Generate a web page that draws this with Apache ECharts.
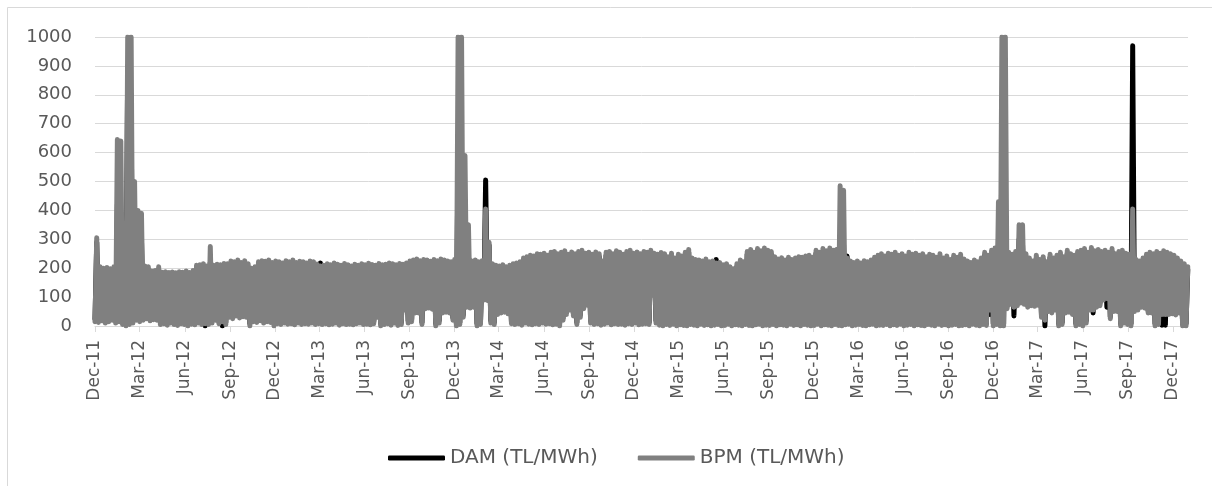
<!DOCTYPE html>
<html>
<head>
<meta charset="utf-8">
<script src="https://cdn.jsdelivr.net/npm/echarts@6/dist/echarts.min.js"></script>
<style>
html,body{margin:0;padding:0;background:#fff;}
#chart{width:1212px;height:486px;}
</style>
</head>
<body>
<div id="chart"></div>
<script>
// Weekly series starting at week of 1 Dec 2011 (week index i -> days 7*i .. 7*i+7)
const tickLabels = ['Dec-11','Mar-12','Jun-12','Sep-12','Dec-12','Mar-13','Jun-13','Sep-13','Dec-13','Mar-14','Jun-14','Sep-14','Dec-14','Mar-15','Jun-15','Sep-15','Dec-15','Mar-16','Jun-16','Sep-16','Dec-16','Mar-17','Jun-17','Sep-17','Dec-17'];
const seriesNames = ['DAM (TL/MWh)', 'BPM (TL/MWh)'];

// BPM weekly maxima
const bpmHigh = [
305,205,200,202,198,205,645,640,355,1000,
1000,500,400,390,208,205,190,192,205,186,
188,185,187,184,188,186,190,185,192,210,
212,215,208,275,210,214,212,216,215,225,
222,228,220,226,215,200,205,222,226,224,
228,220,225,222,218,226,222,228,220,224,
222,218,225,222,214,208,210,215,212,218,
214,210,216,212,208,214,210,215,212,217,
213,210,216,212,214,218,215,212,216,214,
218,225,228,232,226,230,228,224,230,226,
232,228,225,222,230,1000,1000,590,350,225,
228,222,226,405,290,215,210,208,212,205,
210,215,218,222,235,240,245,242,250,248,
252,245,255,258,250,255,260,248,256,250,
258,262,252,255,248,256,250,225,255,258,
250,260,255,248,258,262,252,256,250,258,
255,262,252,248,254,250,240,252,235,248,
242,255,265,235,230,228,225,232,222,225,
218,220,212,215,205,198,215,228,222,258,
265,255,268,260,270,262,258,240,232,236,
228,238,230,235,240,238,242,245,238,262,
255,268,260,270,262,265,485,470,235,225,
220,225,218,226,222,228,238,245,250,242,
252,248,255,245,250,242,255,248,252,245,
250,240,248,245,238,250,235,242,230,245,
238,248,232,225,220,228,222,235,255,245,
262,270,430,1000,1000,255,248,258,350,350,
250,235,225,245,230,240,222,248,235,245,
255,240,262,250,245,258,262,268,255,272,
260,265,258,262,255,268,250,258,262,252,
248,405,230,225,235,248,255,250,258,252,
260,255,250,245,235,225,215,205
];
// BPM weekly minima
const bpmLow = [
15,12,18,10,15,20,10,15,5,0,
5,10,20,15,20,25,18,22,20,5,
8,3,10,5,2,8,5,0,6,4,
10,5,8,5,10,20,8,15,5,30,
25,35,28,32,30,0,15,12,18,10,
15,12,0,8,5,10,6,8,4,10,
5,8,6,10,5,8,5,8,4,6,
10,3,8,5,6,4,8,10,5,6,
4,8,30,0,5,8,3,10,2,5,
55,10,15,45,45,5,60,62,58,0,
10,45,48,45,20,0,5,30,65,62,
65,0,5,90,88,10,5,40,45,48,
42,8,5,8,3,10,6,4,8,5,
10,6,8,4,6,0,20,40,55,35,
5,30,60,72,10,5,8,3,6,10,
4,8,5,6,3,8,5,10,4,6,
8,5,107,10,3,0,5,2,6,0,
4,2,0,5,3,0,6,2,4,0,
3,5,0,2,6,0,4,3,0,5,
2,0,4,6,0,3,2,5,0,4,
3,0,6,2,4,0,5,3,0,2,
6,0,4,3,0,5,2,0,4,6,
0,3,5,2,0,4,6,0,3,2,
5,0,4,2,6,0,3,5,0,4,
2,0,5,3,0,6,2,4,0,3,
5,0,2,4,0,6,3,0,5,2,
55,0,5,0,0,60,75,65,70,80,
75,65,70,68,72,30,20,50,45,55,
0,5,45,48,40,0,5,0,10,55,
55,65,70,90,95,25,50,50,0,10,
5,0,50,55,65,62,45,45,0,5,
40,40,40,42,38,45,0,0
];
// DAM weekly maxima
const damHigh = [
290,195,190,192,188,195,420,380,330,900,
700,350,320,300,198,195,182,184,195,178,
180,176,178,175,180,178,182,176,184,200,
202,205,198,220,200,204,202,206,205,215,
212,218,210,216,205,190,196,212,216,214,
218,210,215,212,208,216,212,218,210,214,
212,208,215,212,214,218,200,205,202,208,
204,200,206,202,198,204,200,205,202,207,
203,200,206,202,204,208,205,202,206,204,
208,215,218,222,216,220,218,214,220,216,
222,218,215,212,220,600,450,300,250,215,
218,212,216,505,280,205,200,198,202,195,
200,205,208,212,225,230,235,232,240,238,
242,235,245,248,240,245,250,238,246,240,
248,252,242,245,238,246,240,215,245,248,
240,250,245,238,248,252,242,246,240,248,
245,252,242,238,244,240,230,242,225,238,
232,245,255,225,220,218,215,222,212,215,
230,210,202,205,195,188,205,218,212,248,
255,245,258,250,260,252,248,230,222,226,
218,228,220,225,230,228,232,235,228,252,
245,258,250,260,252,255,300,280,242,215,
210,215,208,216,212,218,228,235,240,232,
242,238,245,235,240,232,245,238,242,235,
240,230,238,235,228,240,225,232,220,235,
228,238,222,215,210,218,212,225,245,235,
252,260,300,600,450,245,238,248,300,280,
240,225,215,235,220,230,212,238,225,235,
245,230,252,240,235,248,252,258,245,262,
250,255,248,252,245,258,240,248,252,242,
238,970,220,215,225,238,245,240,248,242,
250,245,240,235,225,215,205,195
];
// DAM weekly minima
const damLow = [
25,20,25,18,22,28,18,22,12,8,
12,18,28,22,28,32,25,30,28,12,
15,10,18,12,10,15,12,8,14,12,
18,12,0,12,18,28,15,0,12,38,
32,42,35,40,38,8,22,20,25,18,
22,20,8,15,12,18,14,15,12,18,
12,15,14,18,12,15,12,15,12,14,
18,10,15,12,14,12,15,18,12,14,
12,15,38,8,12,15,10,18,10,12,
62,18,22,52,52,12,68,70,65,8,
18,52,55,52,28,8,12,38,72,70,
72,8,12,95,95,18,12,48,52,55,
50,15,12,15,10,18,14,12,15,12,
18,14,15,12,14,8,28,48,62,42,
12,38,68,80,18,12,15,10,14,18,
12,15,12,14,10,15,12,18,12,14,
15,12,112,18,10,8,12,10,14,8,
12,10,8,12,10,8,14,10,12,8,
10,12,8,10,14,8,12,10,8,12,
10,8,12,14,8,10,10,12,8,12,
10,8,14,10,12,8,12,10,8,10,
14,8,12,10,8,12,10,8,12,14,
8,10,12,10,8,12,14,8,10,10,
12,8,12,10,14,8,10,12,8,12,
10,8,12,10,8,14,10,12,8,10,
12,8,10,12,8,14,10,8,12,10,
40,8,12,8,8,68,82,35,78,88,
82,72,78,75,80,38,0,58,52,62,
8,12,52,55,48,8,12,8,18,62,
45,72,78,98,65,32,58,58,8,18,
12,8,58,62,72,70,52,52,8,12,
3,3,48,50,45,52,8,8
];

const MONTHS = {Jan:0,Feb:1,Mar:2,Apr:3,May:4,Jun:5,Jul:6,Aug:7,Sep:8,Oct:9,Nov:10,Dec:11};
const START = Date.UTC(2011, 11, 1);
const DAY = 86400000;
const tickDays = tickLabels.map(function (s) {
  const p = s.split('-');
  return (Date.UTC(2000 + Number(p[1]), MONTHS[p[0]], 1) - START) / DAY;
});
const endDay = (Date.UTC(2018, 0, 1) - START) / DAY;

function zigzag(lows, highs) {
  const out = [];
  for (let i = 0; i < lows.length; i++) {
    out.push([7 * i, lows[i]]);
    out.push([7 * i + 3.5, highs[i]]);
  }
  return out;
}

const FONT = 'DejaVu Sans';
const TXT = '#595959';
const chart = echarts.init(document.getElementById('chart'), null, {renderer: 'canvas'});
chart.setOption({
  animation: false,
  backgroundColor: '#ffffff',
  graphic: [{
    type: 'rect', silent: true, z: -10,
    shape: {x: 7.5, y: 7.5, width: 1230, height: 500},
    style: {fill: 'none', stroke: '#d9d9d9', lineWidth: 1}
  }],
  grid: {left: 95, right: 24, top: 37, bottom: 160, containLabel: false},
  legend: {
    data: seriesNames,
    left: 383, top: 443,
    icon: 'roundRect',
    itemWidth: 57, itemHeight: 5, itemGap: 40,
    textStyle: {fontFamily: FONT, fontSize: 20, color: TXT}
  },
  xAxis: {
    type: 'value', min: 0, max: endDay,
    axisLine: {show: true, lineStyle: {color: '#d9d9d9', width: 1}},
    axisTick: {show: true, customValues: tickDays, length: 6, lineStyle: {color: '#d9d9d9'}},
    axisLabel: {
      customValues: tickDays, rotate: 90, margin: 14,
      fontFamily: FONT, fontSize: 17, color: TXT,
      formatter: function (v) { const k = tickDays.indexOf(v); return k >= 0 ? tickLabels[k] : ''; }
    },
    splitLine: {show: false}
  },
  yAxis: {
    type: 'value', min: 0, max: 1000, interval: 100,
    axisLine: {show: false}, axisTick: {show: false},
    axisLabel: {margin: 23, fontFamily: FONT, fontSize: 18, color: TXT,
      formatter: function (v) { return String(v); }},
    splitLine: {lineStyle: {color: '#d9d9d9', width: 1}}
  },
  series: [
    {
      name: seriesNames[0], type: 'line', showSymbol: false, symbol: 'none',
      data: zigzag(damLow, damHigh), clip: true, sampling: null,
      lineStyle: {color: '#000000', width: 5, join: 'round', cap: 'round'},
      itemStyle: {color: '#000000'}, z: 2
    },
    {
      name: seriesNames[1], type: 'line', showSymbol: false, symbol: 'none',
      data: zigzag(bpmLow, bpmHigh), clip: true, sampling: null,
      lineStyle: {color: '#808080', width: 5, join: 'round', cap: 'round'},
      itemStyle: {color: '#808080'}, z: 3
    }
  ]
});
</script>
</body>
</html>
